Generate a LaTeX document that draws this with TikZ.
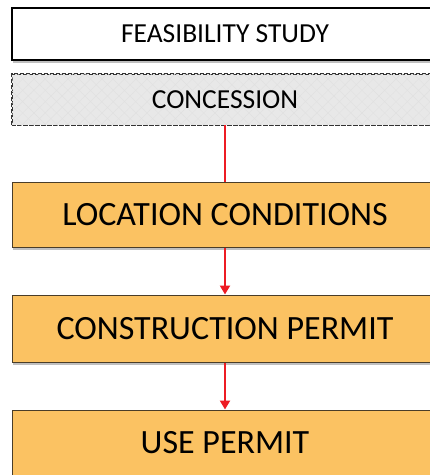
\documentclass[tikz,border=0pt]{standalone}
\usepackage{fontspec}
\setmainfont{Carlito}
\usetikzlibrary{shadows,patterns.meta,arrows.meta}
\definecolor{boxorange}{HTML}{FBC262}
\definecolor{boxedge}{HTML}{4A3D28}
\definecolor{arrred}{HTML}{ED1C24}
\tikzset{
  shade/.style={drop shadow={shadow xshift=1pt,shadow yshift=-3pt,opacity=0.25,fill=black}},
  whitebox/.style={draw=black,line width=1.1pt,fill=white,minimum width=426pt,minimum height=52pt,inner sep=0pt,shade,font=\fontsize{27.5}{30}\selectfont},
  dashbox/.style={draw=black!80,line width=0.8pt,dash pattern=on 4pt off 2pt,fill=black!9,minimum width=426pt,minimum height=51pt,inner sep=0pt,font=\fontsize{27.5}{30}\selectfont},
  stagebox/.style={draw=boxedge,line width=1pt,fill=boxorange,minimum width=426pt,inner sep=0pt,shade,font=\fontsize{34}{38}\selectfont},
  link/.style={draw=arrred,line width=2pt},
  arrowlink/.style={link,-{Triangle[length=9pt,width=10pt]}}
}
\begin{document}
\begin{tikzpicture}[x=1pt,y=-1pt]
\useasboundingbox (0,0) rectangle (430,475);
\clip (0,0) rectangle (430,475);
\fill[white] (0,0) rectangle (430,475);
\node[whitebox] (feas) at (225,34) {FEASIBILITY STUDY};
\node[dashbox] (conc) at (225,99.5) {};
\fill[pattern={Lines[angle=45,distance=8pt,line width=0.4pt]},pattern color=black!12] (conc.south west) rectangle (conc.north east);
\fill[pattern={Lines[angle=-45,distance=8pt,line width=0.4pt]},pattern color=black!12] (conc.south west) rectangle (conc.north east);
\draw[black!80,line width=0.8pt,dash pattern=on 4pt off 2pt] (conc.south west) rectangle (conc.north east);
\node[font=\fontsize{27.5}{30}\selectfont] (conctext) at (conc.center) {CONCESSION};
\node[stagebox,minimum height=65pt] (loc) at (225,214.5) {LOCATION CONDITIONS};
\node[stagebox,minimum height=67pt] (cons) at (225,328.5) {CONSTRUCTION PERMIT};
\node[stagebox,minimum height=66pt] (use) at (225,443) {USE PERMIT};
\draw[link] (conc.south) -- (loc.north);
\draw[arrowlink] (loc.south) -- (cons.north);
\draw[arrowlink] (cons.south) -- (use.north);
\end{tikzpicture}
\end{document}
